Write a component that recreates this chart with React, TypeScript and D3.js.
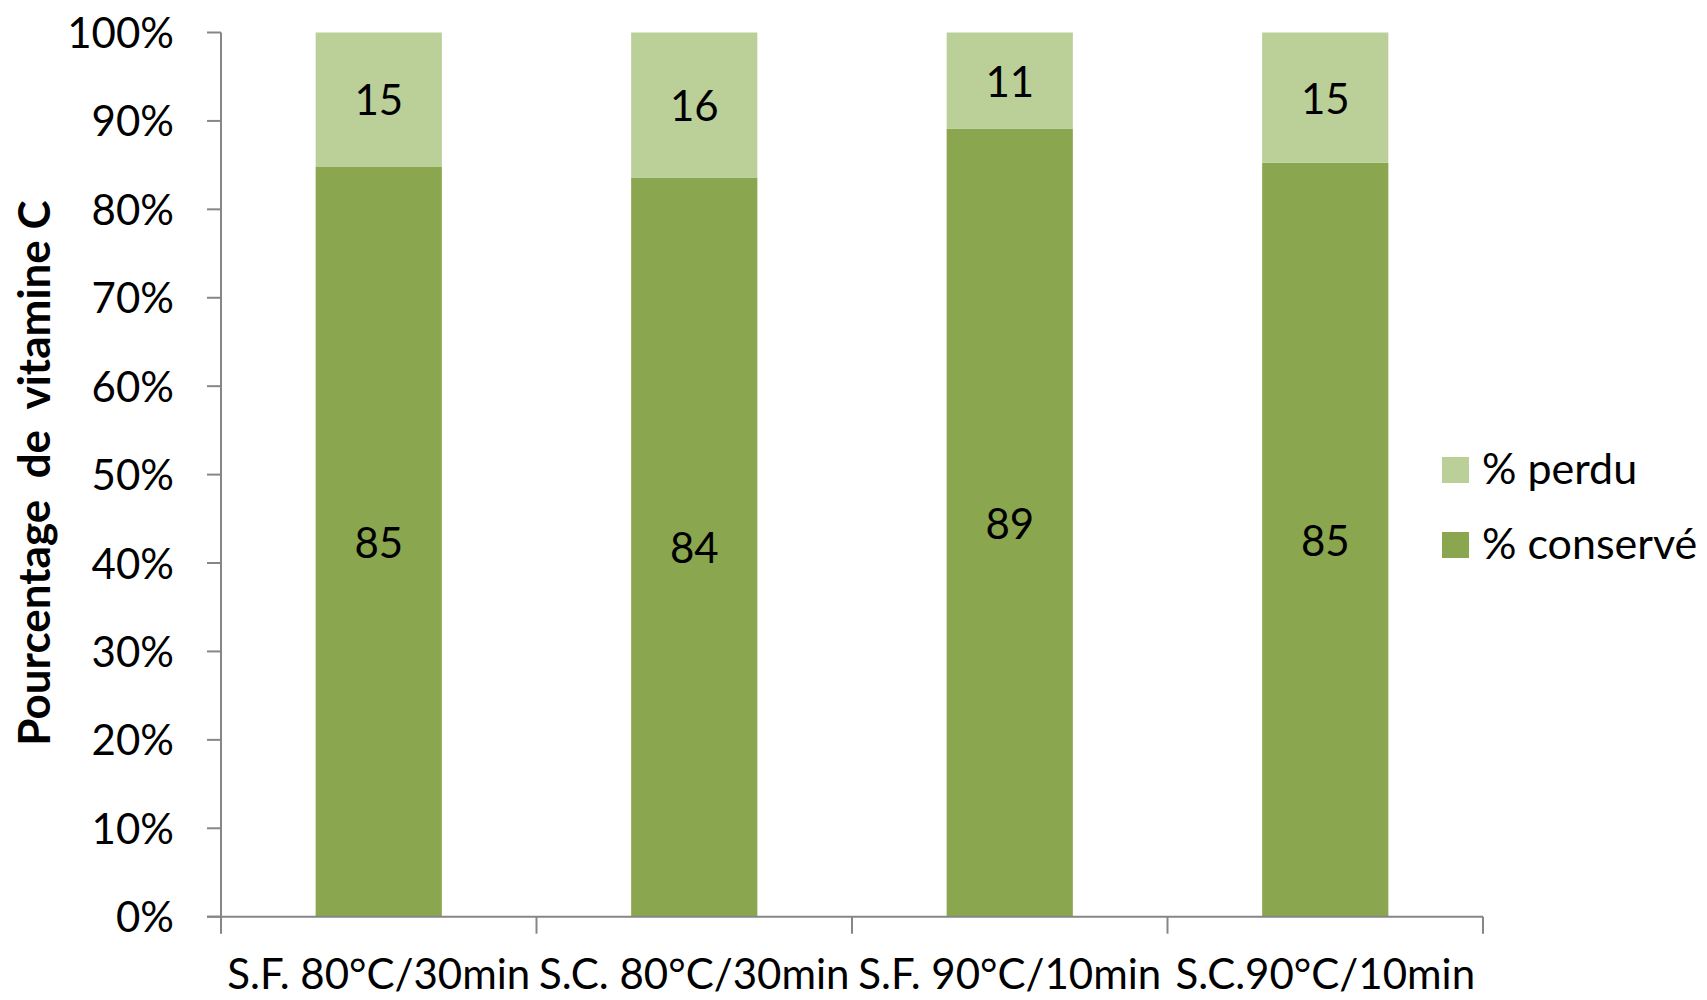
import React from "react";
import * as d3 from "d3";

const categories = ["S.F. 80°C/30min", "S.C. 80°C/30min", "S.F. 90°C/10min", "S.C.90°C/10min"];
const conserve = [84.85, 83.6, 89.1, 85.26];
const perdu = [15.15, 16.4, 10.9, 14.74];
const seriesKeys = ["conserve", "perdu"];
const seriesNames = ["% conservé", "% perdu"];
const seriesColors = ["#8AA64E", "#BBCF99"];
const yTicks = [0, 10, 20, 30, 40, 50, 60, 70, 80, 90, 100];
const yTitle = "Pourcentage  de  vitamine C";

const W = 1707;
const H = 1000;
const FONT = "Lato, 'Noto Sans', sans-serif";
const FS = 42;

export default function App() {
  const left = 221;
  const right = 1483;
  const top = 32.5;
  const bottom = 916.7;

  const rows = categories.map((c, i) => ({ cat: c, conserve: conserve[i], perdu: perdu[i] }));
  const stack = d3.stack<any>().keys(seriesKeys)(rows);

  const x = d3.scaleBand<string>().domain(categories).range([left, right]).paddingInner(0.6).paddingOuter(0.3);
  const xStep = (right - left) / categories.length;
  const y = d3.scaleLinear().domain([0, 100]).range([bottom, top]);
  const fmt = d3.format(".0f");
  const axisColor = "#868686";

  return (
    <svg width={W} height={H} style={{ position: "absolute", left: 0, top: 0, background: "#fff" }} fontFamily={FONT}>
      <rect x={0} y={0} width={W} height={H} fill="#fff" />
      {/* bars */}
      {stack.map((s, si) => (
        <g key={s.key}>
          {s.map((d, i) => {
            const x0 = x(categories[i])!;
            const y0 = y(d[1]);
            const y1 = y(d[0]);
            return (
              <g key={i}>
                <rect x={x0} y={y0} width={x.bandwidth()} height={y1 - y0} fill={seriesColors[si]} />
                <text x={x0 + x.bandwidth() / 2} y={(y0 + y1) / 2} dy="0.38em" textAnchor="middle" fontSize={FS} fill="#000">
                  {fmt(d[1] - d[0])}
                </text>
              </g>
            );
          })}
        </g>
      ))}
      {/* y axis */}
      <line x1={left} x2={left} y1={top} y2={bottom} stroke={axisColor} strokeWidth={2} />
      {yTicks.map((t) => (
        <g key={t}>
          <line x1={left - 14} x2={left} y1={y(t)} y2={y(t)} stroke={axisColor} strokeWidth={2} />
          <text x={174} y={y(t)} dy="0.37em" textAnchor="end" fontSize={FS} fill="#000">
            {t + "%"}
          </text>
        </g>
      ))}
      {/* x axis */}
      <line x1={left - 14} x2={right} y1={bottom} y2={bottom} stroke={axisColor} strokeWidth={2} />
      {d3.range(categories.length + 1).map((i) => (
        <line key={i} x1={left + i * xStep} x2={left + i * xStep} y1={bottom} y2={bottom + 17} stroke={axisColor} strokeWidth={2} />
      ))}
      {categories.map((c) => (
        <text key={c} x={x(c)! + x.bandwidth() / 2} y={989} textAnchor="middle" fontSize={FS} fill="#000">
          {c}
        </text>
      ))}
      {/* y title */}
      <text
        transform={`translate(50, 473) rotate(-90)`}
        textAnchor="middle"
        fontSize={44}
        fontWeight="bold"
        fill="#000"
        style={{ whiteSpace: "pre" }}
      >
        {yTitle}
      </text>
      {/* legend */}
      {[1, 0].map((si, k) => (
        <g key={si} transform={`translate(1442, ${457 + k * 75})`}>
          <rect x={0} y={0} width={27} height={26} fill={seriesColors[si]} />
          <text x={40} y={27} fontSize={43} fill="#000">
            {seriesNames[si]}
          </text>
        </g>
      ))}
    </svg>
  );
}
